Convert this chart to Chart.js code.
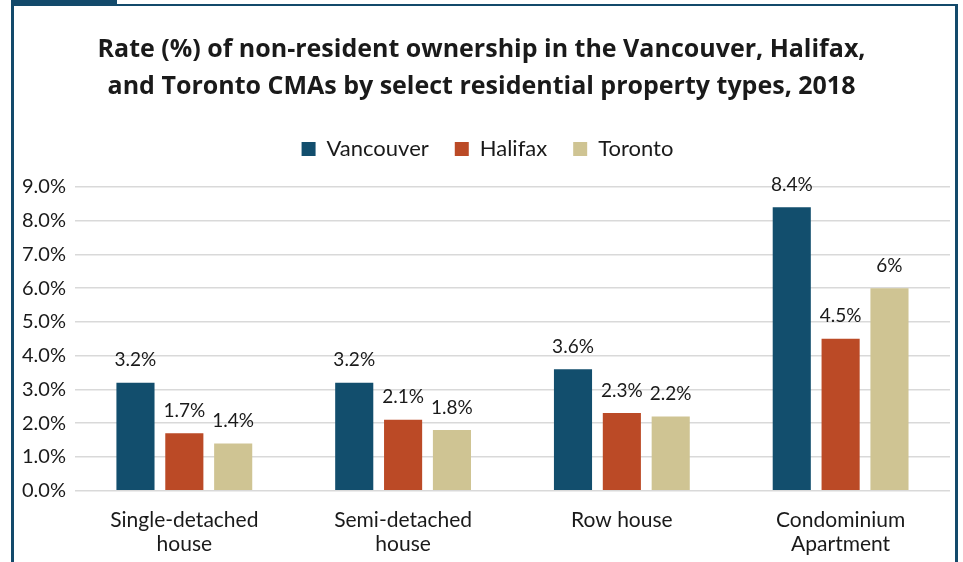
<!DOCTYPE html>
<html>
<head>
<meta charset="utf-8">
<script src="https://cdn.jsdelivr.net/npm/chart.js@4.4.1/dist/chart.umd.min.js"></script>
<style>
  html, body { margin: 0; padding: 0; background: #fff; overflow: hidden; }
  canvas { display: block; }
</style>
</head>
<body>
<canvas id="chart" width="963" height="562"></canvas>
<script>
const categories = [['Single-detached', 'house'], ['Semi-detached', 'house'], 'Row house', ['Condominium', 'Apartment']];
const vancouver = [3.2, 3.2, 3.6, 8.4];
const halifax = [1.7, 2.1, 2.3, 4.5];
const toronto = [1.4, 1.8, 2.2, 6];
const yTicks = [0, 1, 2, 3, 4, 5, 6, 7, 8, 9];

const FONT = 'Lato, "Open Sans", sans-serif';
const NAVY = '#134a6b';

// Navy frame with tab at top-left
const frame = {
  id: 'frame',
  beforeDraw(chart) {
    const ctx = chart.ctx;
    ctx.save();
    ctx.fillStyle = NAVY;
    ctx.fillRect(11, 0, 106, 5);
    ctx.fillRect(11, 4, 947, 2);
    ctx.fillRect(11, 0, 3, 562);
    ctx.fillRect(955, 4, 3, 558);
    ctx.restore();
  }
};

// Extra gap under the legend, and nudge it a little to the right
const legendTweak = {
  id: 'legendTweak',
  beforeInit(chart) {
    const legend = chart.legend;
    const fit = legend.fit;
    legend.fit = function () {
      fit.bind(legend)();
      this.height += 17;
    };
    const draw = legend.draw;
    legend.draw = function () {
      const ctx = chart.ctx;
      ctx.save();
      ctx.translate(6, 0);
      draw.apply(legend, arguments);
      ctx.restore();
    };
  }
};

// Value labels above each bar
const valueLabels = {
  id: 'valueLabels',
  afterDatasetsDraw(chart) {
    const ctx = chart.ctx;
    ctx.save();
    ctx.font = '19px ' + FONT;
    ctx.fillStyle = '#1a1a1a';
    ctx.textAlign = 'center';
    ctx.textBaseline = 'bottom';
    chart.data.datasets.forEach((ds, i) => {
      chart.getDatasetMeta(i).data.forEach((bar, j) => {
        ctx.fillText(ds.data[j] + '%', bar.x, bar.y - 13);
      });
    });
    ctx.restore();
  }
};

new Chart(document.getElementById('chart'), {
  type: 'bar',
  data: {
    labels: categories,
    datasets: [
      { label: 'Vancouver', data: vancouver, backgroundColor: '#124e6d' },
      { label: 'Halifax', data: halifax, backgroundColor: '#bb4a26' },
      { label: 'Toronto', data: toronto, backgroundColor: '#cfc493' }
    ]
  },
  options: {
    responsive: false,
    animation: false,
    devicePixelRatio: 1,
    layout: { padding: { left: 13, right: 13, top: 32, bottom: -3 } },
    datasets: { bar: { categoryPercentage: 0.67, barPercentage: 0.78 } },
    plugins: {
      title: {
        display: true,
        text: ['Rate (%) of non-resident ownership in the Vancouver, Halifax,', 'and Toronto CMAs by select residential property types, 2018'],
        color: '#1a1a1a',
        font: { family: '"Open Sans", Lato, sans-serif', size: 25, weight: 'bold', lineHeight: 1.46 },
        padding: { top: 0, bottom: 7 }
      },
      legend: {
        labels: {
          color: '#1a1a1a',
          font: { family: FONT, size: 22 },
          boxWidth: 14, boxHeight: 14, padding: 26
        }
      },
      tooltip: { enabled: false }
    },
    scales: {
      x: {
        grid: { display: false },
        border: { display: false },
        ticks: { color: '#1a1a1a', font: { family: FONT, size: 21, lineHeight: 1.15 }, padding: 9, maxRotation: 0 }
      },
      y: {
        min: 0, max: 9,
        afterBuildTicks(axis) { axis.ticks = yTicks.map(v => ({ value: v })); },
        grid: { color: '#d9d9d9', lineWidth: 1.5, drawTicks: false },
        border: { display: false },
        ticks: { color: '#1a1a1a', font: { family: FONT, size: 20 }, padding: 9,
                 callback: v => v.toFixed(1) + '%' }
      }
    }
  },
  plugins: [frame, legendTweak, valueLabels]
});
</script>
</body>
</html>
